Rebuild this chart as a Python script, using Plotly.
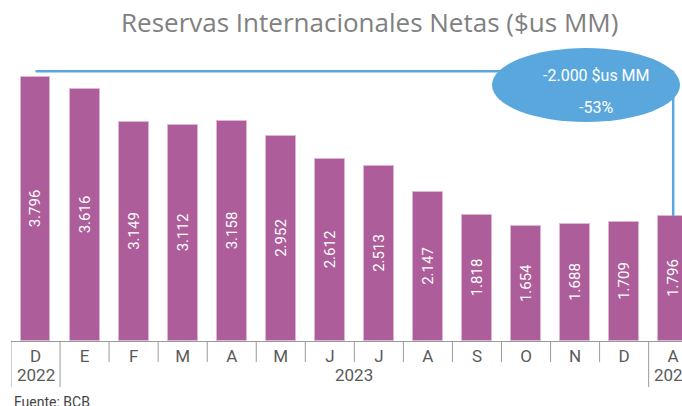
import plotly.graph_objects as go

# ---- data ----
months = ["D", "E", "F", "M", "A", "M", "J", "J", "A", "S", "O", "N", "D", "A"]
years = ["2022"] + ["2023"] * 12 + ["2024"]
values = [3796, 3616, 3149, 3112, 3158, 2952, 2612, 2513, 2147, 1818, 1654, 1688, 1709, 1796]
change_lines = ["-2.000 $us MM", "-53%"]
title_text = "Reservas Internacionales Netas ($us MM)"
source_text = "Fuente: BCB"

idx = list(range(len(values)))
bar_labels = [f"{v:,}".replace(",", ".") for v in values]

W, H = 682, 406
ML, MR, MT, MB = 11, 0, 40, 65
PW, PH = W - ML - MR, H - MT - MB

def px(x):
    return (x - ML) / PW

def py(y):
    return (H - MB - y) / PH

BAR = "#ad5d9a"
BLUE = "#5aa7dd"
GRID = "#9a9a9a"
LBL = "Roboto, sans-serif"

fig = go.Figure(
    go.Bar(
        x=idx,
        y=values,
        text=bar_labels,
        textposition="inside",
        insidetextanchor="middle",
        textangle=-90,
        textfont=dict(family=LBL, size=15, color="white"),
        marker=dict(color=BAR, line=dict(color="#dcb6d2", width=1)),
        width=0.61,
        hoverinfo="skip",
    )
)

top_level = values[0] * 1.022
last = idx[-1]

shapes = []
# category separators (short) and year dividers (long)
year_starts = [i for i in idx if i == 0 or years[i] != years[i - 1]]
for i in idx:
    b = i - 0.5
    long_div = i in year_starts
    shapes.append(dict(type="line", xref="x", yref="paper", x0=b, x1=b,
                       y0=0, y1=py(387 if long_div else 362),
                       line=dict(color=GRID, width=1)))

shapes += [
    dict(type="line", xref="x", yref="y", x0=0, x1=last, y0=top_level, y1=top_level,
         line=dict(color=BLUE, width=2.5), layer="above"),
    dict(type="line", xref="x", yref="y", x0=last, x1=last, y0=top_level, y1=values[-1],
         line=dict(color=BLUE, width=2.5), layer="above"),
    dict(type="circle", xref="paper", yref="paper",
         x0=px(492), x1=px(680), y0=py(122), y1=py(48),
         fillcolor=BLUE, line=dict(color=BLUE, width=0), layer="above"),
]

annotations = []
# year labels centred under their group
for s_i, s in enumerate(year_starts):
    e = (year_starts[s_i + 1] - 1) if s_i + 1 < len(year_starts) else last
    annotations.append(dict(text=years[s], xref="x", yref="paper", x=(s + e) / 2, y=py(375),
                            showarrow=False, font=dict(family=LBL, size=17, color="#5a5a5a"),
                            xanchor="center", yanchor="middle"))

annotations += [
    dict(text=change_lines[0], xref="paper", yref="paper", x=px(596), y=py(75),
         showarrow=False, font=dict(family=LBL, size=16, color="white"),
         xanchor="center", yanchor="middle"),
    dict(text=change_lines[1], xref="paper", yref="paper", x=px(596), y=py(107),
         showarrow=False, font=dict(family=LBL, size=16, color="white"),
         xanchor="center", yanchor="middle"),
    dict(text=title_text, xref="paper", yref="paper", x=px(369), y=py(22),
         showarrow=False, font=dict(family="Open Sans, sans-serif", size=26, color="#808080"),
         xanchor="center", yanchor="middle"),
    dict(text=source_text, xref="paper", yref="paper", x=px(12), y=py(402),
         showarrow=False, font=dict(family=LBL, size=14, color="#444444"),
         xanchor="left", yanchor="middle"),
]

fig.update_layout(
    width=W, height=H,
    margin=dict(l=ML, r=MR, t=MT, b=MB, pad=0),
    plot_bgcolor="white", paper_bgcolor="white",
    showlegend=False,
    shapes=shapes,
    annotations=annotations,
    bargap=0,
    xaxis=dict(
        range=[-0.5, 13.18],
        tickmode="array", tickvals=idx, ticktext=months,
        showline=True, linecolor=GRID, linewidth=1,
        ticks="",
        tickfont=dict(family=LBL, size=17, color="#5a5a5a"),
        showgrid=False, zeroline=False,
    ),
    yaxis=dict(visible=False, range=[0, 4327], showgrid=False, zeroline=False),
)

fig.write_html(
    "out.html",
    config={"displayModeBar": False},
    post_script="document.body.style.margin='0';document.body.style.padding='0';",
)
